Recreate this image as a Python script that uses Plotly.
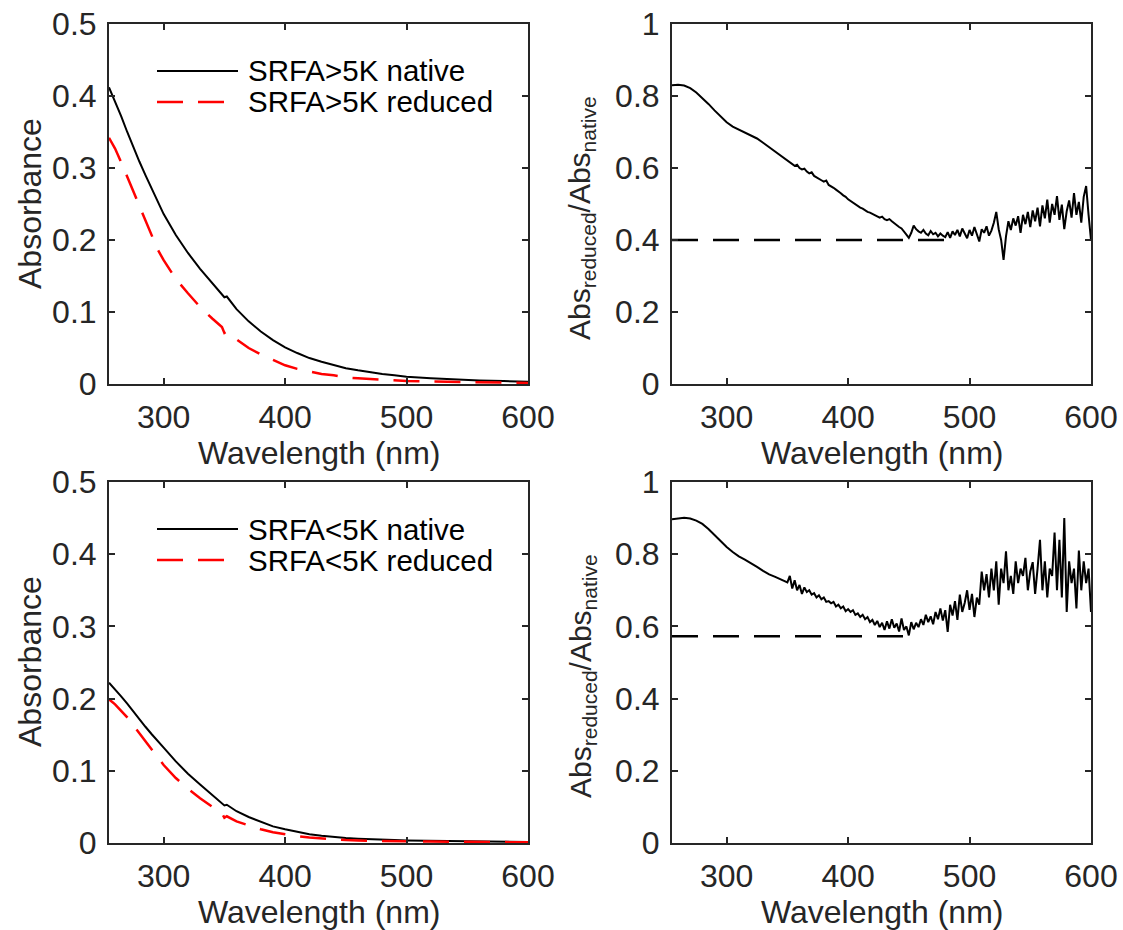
import plotly.graph_objects as go

# ---------------- data ----------------
WL_ABS = [255, 260, 265, 270, 275, 280, 285, 290, 295, 300, 310, 320, 330, 340, 348, 350, 352,
          360, 370, 380, 390, 400, 410, 420, 430, 440, 450, 460, 470, 480, 490, 500, 520, 540,
          560, 580, 600]

GT5K_NATIVE = [0.412, 0.393, 0.372, 0.350, 0.329, 0.309, 0.290, 0.272, 0.252, 0.236, 0.207, 0.182,
               0.160, 0.140, 0.1245, 0.1205, 0.1215, 0.104, 0.087, 0.073, 0.061, 0.051, 0.043,
               0.036, 0.031, 0.026, 0.022, 0.019, 0.016, 0.014, 0.012, 0.010, 0.008, 0.006,
               0.005, 0.004, 0.003]
GT5K_REDUCED = [0.342, 0.327, 0.308, 0.288, 0.267, 0.246, 0.226, 0.207, 0.187, 0.172, 0.146, 0.126,
                0.107, 0.091, 0.079, 0.071, 0.073, 0.062, 0.050, 0.041, 0.033, 0.026, 0.021,
                0.017, 0.014, 0.012, 0.009, 0.008, 0.007, 0.006, 0.005, 0.004, 0.0035, 0.003,
                0.002, 0.002, 0.0015]

LT5K_NATIVE = [0.222, 0.213, 0.203, 0.193, 0.182, 0.172, 0.161, 0.151, 0.141, 0.132, 0.113, 0.096,
               0.081, 0.067, 0.056, 0.052, 0.053, 0.044, 0.036, 0.029, 0.023, 0.019, 0.015,
               0.012, 0.010, 0.008, 0.007, 0.006, 0.005, 0.0045, 0.004, 0.0035, 0.003, 0.0025,
               0.002, 0.0018, 0.0015]
LT5K_REDUCED = [0.199, 0.192, 0.183, 0.174, 0.163, 0.152, 0.140, 0.129, 0.118, 0.108, 0.090, 0.075,
                0.062, 0.050, 0.041, 0.035, 0.037, 0.030, 0.024, 0.019, 0.015, 0.012, 0.0095,
                0.0075, 0.006, 0.005, 0.004, 0.0035, 0.003, 0.003, 0.0025, 0.0023, 0.002, 0.0018,
                0.0015, 0.0013, 0.001]

# ratio spectra: smooth part (5 nm) + measured noisy part (2 nm)
WL_RATIO = [255, 260, 265, 270, 275, 280, 285, 290, 295, 300, 305, 310, 315, 320, 325, 330,
            335, 340, 345, 350] + list(range(352, 601, 2))

GT5K_RATIO = [0.830, 0.831, 0.829, 0.822, 0.810, 0.795, 0.778, 0.760, 0.742, 0.727, 0.715, 0.707,
              0.700, 0.692, 0.682, 0.670, 0.658, 0.646, 0.634, 0.622,
              0.618, 0.612, 0.606, 0.609, 0.600, 0.596, 0.598, 0.590, 0.585, 0.588,
              0.578, 0.574, 0.571, 0.566, 0.562, 0.565, 0.553, 0.550, 0.545, 0.540,
              0.536, 0.530, 0.524, 0.520, 0.513, 0.508, 0.503, 0.500, 0.495, 0.490,
              0.487, 0.482, 0.478, 0.476, 0.472, 0.468, 0.466, 0.462, 0.465, 0.458,
              0.455, 0.458, 0.452, 0.446, 0.442, 0.436, 0.432, 0.425, 0.415, 0.406,
              0.420, 0.440, 0.430, 0.424, 0.420, 0.428, 0.418, 0.413, 0.425, 0.416,
              0.420, 0.410, 0.418, 0.412, 0.408, 0.422, 0.406, 0.424, 0.414, 0.428,
              0.410, 0.432, 0.418, 0.405, 0.428, 0.412, 0.436, 0.418, 0.396, 0.430,
              0.420, 0.438, 0.412, 0.426, 0.448, 0.478, 0.430, 0.400, 0.345, 0.410,
              0.452, 0.428, 0.460, 0.440, 0.466, 0.420, 0.470, 0.444, 0.478, 0.436,
              0.482, 0.452, 0.490, 0.438, 0.496, 0.460, 0.512, 0.448, 0.500, 0.470,
              0.522, 0.456, 0.498, 0.430, 0.480, 0.510, 0.462, 0.530, 0.470, 0.506,
              0.448, 0.520, 0.550, 0.470, 0.400]

LT5K_RATIO = [0.897, 0.900, 0.901, 0.899, 0.893, 0.884, 0.870, 0.853, 0.836, 0.820, 0.806, 0.794,
              0.785, 0.776, 0.765, 0.754, 0.744, 0.737, 0.730, 0.722,
              0.740, 0.705, 0.728, 0.700, 0.715, 0.690, 0.708, 0.695, 0.700, 0.688,
              0.692, 0.680, 0.686, 0.675, 0.680, 0.668, 0.670, 0.664, 0.668, 0.655,
              0.660, 0.650, 0.655, 0.642, 0.648, 0.640, 0.645, 0.632, 0.636, 0.626,
              0.632, 0.620, 0.626, 0.612, 0.618, 0.604, 0.615, 0.598, 0.610, 0.590,
              0.614, 0.594, 0.620, 0.596, 0.608, 0.586, 0.622, 0.590, 0.600, 0.575,
              0.612, 0.592, 0.610, 0.598, 0.620, 0.604, 0.632, 0.612, 0.628, 0.606,
              0.640, 0.620, 0.650, 0.616, 0.645, 0.585, 0.660, 0.630, 0.670, 0.618,
              0.688, 0.640, 0.665, 0.700, 0.646, 0.690, 0.626, 0.680, 0.660, 0.752,
              0.700, 0.745, 0.680, 0.760, 0.700, 0.780, 0.660, 0.760, 0.720, 0.808,
              0.700, 0.740, 0.690, 0.780, 0.720, 0.760, 0.740, 0.790, 0.700, 0.752,
              0.778, 0.690, 0.760, 0.840, 0.700, 0.780, 0.680, 0.760, 0.740, 0.860,
              0.700, 0.840, 0.680, 0.900, 0.640, 0.780, 0.720, 0.760, 0.650, 0.810,
              0.700, 0.780, 0.720, 0.760, 0.640]

GT5K_BASE_WL = [255, 485]
GT5K_BASE = [0.40, 0.40]
LT5K_BASE_WL = [255, 449]
LT5K_BASE = [0.573, 0.573]

X_TICKS = [300, 400, 500, 600]
ABS_TICKS = [0, 0.1, 0.2, 0.3, 0.4, 0.5]
RATIO_TICKS = [0, 0.2, 0.4, 0.6, 0.8, 1]
RATIO_TICKTEXT = ["0", "0.2", "0.4", "0.6", "0.8", "1"]

# ---------------- figure ----------------
W, H = 1123, 930
FONT = "Liberation Sans, Arial, Helvetica, sans-serif"
AX = "#262626"

fig = go.Figure()

black = dict(color="black", width=2)
red = dict(color="#ff0000", width=2.5, dash="26px,15px")
base = dict(color="black", width=2.5, dash="26px,15px")

fig.add_trace(go.Scatter(x=WL_ABS, y=GT5K_NATIVE, mode="lines", line=black, xaxis="x", yaxis="y"))
fig.add_trace(go.Scatter(x=WL_ABS, y=GT5K_REDUCED, mode="lines", line=red, xaxis="x", yaxis="y"))
fig.add_trace(go.Scatter(x=WL_RATIO, y=GT5K_RATIO, mode="lines", line=black, xaxis="x2", yaxis="y2"))
fig.add_trace(go.Scatter(x=GT5K_BASE_WL, y=GT5K_BASE, mode="lines", line=base, xaxis="x2", yaxis="y2"))
fig.add_trace(go.Scatter(x=WL_ABS, y=LT5K_NATIVE, mode="lines", line=black, xaxis="x3", yaxis="y3"))
fig.add_trace(go.Scatter(x=WL_ABS, y=LT5K_REDUCED, mode="lines", line=red, xaxis="x3", yaxis="y3"))
fig.add_trace(go.Scatter(x=WL_RATIO, y=LT5K_RATIO, mode="lines", line=black, xaxis="x4", yaxis="y4"))
fig.add_trace(go.Scatter(x=LT5K_BASE_WL, y=LT5K_BASE, mode="lines", line=base, xaxis="x4", yaxis="y4"))


def fx(px):
    return px / W


def fy(py):
    return 1 - py / H


common = dict(showline=True, linecolor=AX, linewidth=2, mirror="ticks", ticks="inside",
              ticklen=6, tickwidth=2, tickcolor=AX, showgrid=False, zeroline=False,
              automargin=False, tickfont=dict(family=FONT, size=32, color=AX))

xl, xr = [fx(109), fx(528)], [fx(672), fx(1091)]
yt, yb = [fy(384), fy(24)], [fy(843), fy(482)]

xa = dict(range=[255, 600], tickvals=X_TICKS, ticklabelstandoff=4, **common)
ya_abs = dict(range=[0, 0.5], tickvals=ABS_TICKS, ticklabelstandoff=4, **common)
ya_rat = dict(range=[0, 1], tickvals=RATIO_TICKS, ticktext=RATIO_TICKTEXT, ticklabelstandoff=4,
              **common)

fig.update_layout(
    width=W, height=H, autosize=False, margin=dict(l=0, r=0, t=0, b=0, pad=0),
    paper_bgcolor="white", plot_bgcolor="white", showlegend=False,
    xaxis=dict(domain=xl, anchor="y", **xa),
    yaxis=dict(domain=yt, anchor="x", **ya_abs),
    xaxis2=dict(domain=xr, anchor="y2", **xa),
    yaxis2=dict(domain=yt, anchor="x2", **ya_rat),
    xaxis3=dict(domain=xl, anchor="y3", **xa),
    yaxis3=dict(domain=yb, anchor="x3", **ya_abs),
    xaxis4=dict(domain=xr, anchor="y4", **xa),
    yaxis4=dict(domain=yb, anchor="x4", **ya_rat),
)

title_font = dict(family=FONT, size=32, color=AX)
ratio_title_font = dict(family=FONT, size=30, color=AX)
ann = []
for cx, cy in [(318.5, 453), (881.5, 453), (318.5, 912), (881.5, 912)]:
    ann.append(dict(text="Wavelength (nm)", x=fx(cx), y=fy(cy), xref="paper", yref="paper",
                    xanchor="center", yanchor="middle", showarrow=False, font=title_font))
for cy in [204, 662]:
    ann.append(dict(text="Absorbance", x=fx(30), y=fy(cy), xref="paper", yref="paper",
                    xanchor="center", yanchor="middle", textangle=-90, showarrow=False,
                    font=title_font))
    ann.append(dict(text="Abs<sub>reduced</sub>/Abs<sub>native</sub>", x=fx(582), y=fy(cy + 14),
                    xref="paper", yref="paper", xanchor="center", yanchor="middle",
                    textangle=-90, showarrow=False, font=ratio_title_font))

# manual legends (long line samples like the original)
leg_font = dict(family=FONT, size=29.5, color="black")
shapes = []
for dy, names in [(0, ["SRFA>5K native", "SRFA>5K reduced"]),
                  (458, ["SRFA<5K native", "SRFA<5K reduced"])]:
    for i, (nm, st) in enumerate(zip(names, [black, red])):
        yy = fy(71 + dy + 31 * i)
        shapes.append(dict(type="line", xref="paper", yref="paper", x0=fx(157), x1=fx(238),
                           y0=yy, y1=yy, line=st))
        ann.append(dict(text=nm, x=fx(246), y=yy, xref="paper", yref="paper", xanchor="left",
                        yanchor="middle", showarrow=False, font=leg_font))

fig.update_layout(annotations=ann, shapes=shapes)

# pin the graph to the page's top-left corner so the page is exactly the figure
PIN_JS = ("document.body.style.margin='0';document.body.style.overflow='hidden';"
          "var d=document.getElementById('{plot_id}');d.style.position='fixed';"
          "d.style.left='0px';d.style.top='0px';")

fig.write_html("out.html", post_script=PIN_JS, config={"displayModeBar": False})
